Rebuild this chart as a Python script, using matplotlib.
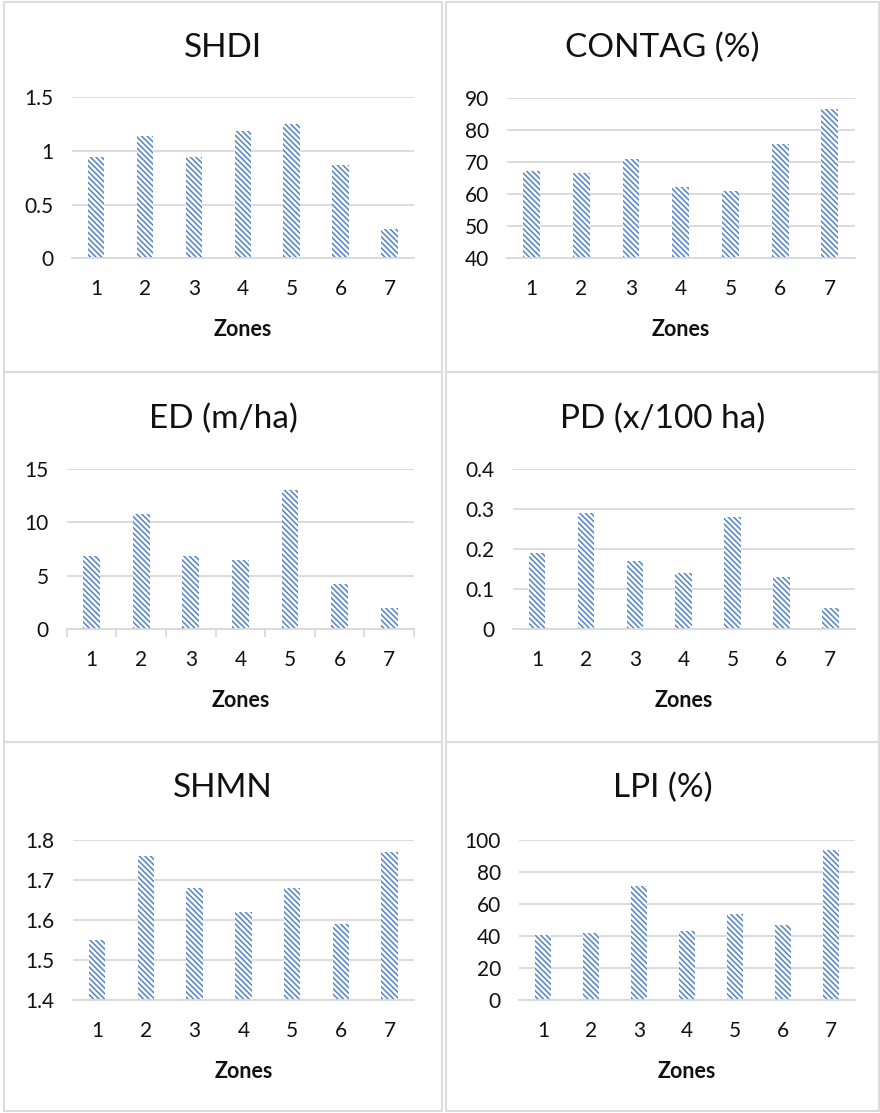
import matplotlib
matplotlib.use('Agg')
import matplotlib.pyplot as plt
from matplotlib.patches import Rectangle

plt.rcParams['font.family'] = ['Lato', 'DejaVu Sans']
plt.rcParams['hatch.linewidth'] = 1.1

# data
zones = [1, 2, 3, 4, 5, 6, 7]
shdi = [0.94, 1.14, 0.94, 1.19, 1.25, 0.87, 0.27]
contag = [67.2, 66.5, 71.0, 62.2, 61.0, 75.6, 86.5]
ed = [6.85, 10.77, 6.85, 6.5, 13.0, 4.26, 1.96]
pd_ = [0.19, 0.29, 0.17, 0.14, 0.28, 0.13, 0.052]
shmn = [1.55, 1.76, 1.68, 1.62, 1.68, 1.59, 1.77]
lpi = [40.4, 42.0, 71.4, 43.3, 54.0, 46.6, 93.8]

titles = ["SHDI", "CONTAG (%)", "ED (m/ha)", "PD (x/100 ha)", "SHMN", "LPI (%)"]
series = [shdi, contag, ed, pd_, shmn, lpi]
yticks = [[0, 0.5, 1, 1.5],
          [40, 50, 60, 70, 80, 90],
          [0, 5, 10, 15],
          [0, 0.1, 0.2, 0.3, 0.4],
          [1.4, 1.5, 1.6, 1.7, 1.8],
          [0, 20, 40, 60, 80, 100]]
ylabels = [["0", "0.5", "1", "1.5"],
           ["40", "50", "60", "70", "80", "90"],
           ["0", "5", "10", "15"],
           ["0", "0.1", "0.2", "0.3", "0.4"],
           ["1.4", "1.5", "1.6", "1.7", "1.8"],
           ["0", "20", "40", "60", "80", "100"]]

W, H = 880, 1113
fig = plt.figure(figsize=(W / 100, H / 100), dpi=100)

# plot areas in pixels: left, right, top, bottom
boxes = [(71.7, 414, 97.3, 258.3),
         (506.7, 854.7, 97.7, 258.3),
         (66.7, 414, 468.7, 629.3),
         (512.7, 854.7, 468.7, 629.3),
         (72.7, 414, 839.7, 1000.3),
         (519, 854.7, 839.7, 1000.3)]
# panel frames: left, right, top, bottom
panels = [(4, 442, 2, 372), (446, 879, 2, 372),
          (4, 442, 372, 742), (446, 879, 372, 742),
          (4, 442, 742, 1111), (446, 879, 742, 1111)]
title_y = [47.7, 47.7, 418.7, 418.7, 788, 788]

grid_c = '#d9d9d9'
bar_c = '#4f83cc'
txt_c = '#111111'

for i in range(6):
    l, r, t, b = boxes[i]
    ax = fig.add_axes([l / W, 1 - b / H, (r - l) / W, (b - t) / H])
    # hatch density: each backslash = 6 lines per inch
    ax.bar(zones, series[i], width=0.34, color='white', edgecolor=bar_c,
           linewidth=0, hatch='\\' * 6, zorder=2)
    ax.set_xlim(0.5, 7.5)
    ax.set_ylim(yticks[i][0], yticks[i][-1])
    ax.set_yticks(yticks[i])
    ax.set_yticklabels(ylabels[i])
    ax.set_xticks(zones)
    ax.grid(axis='y', color=grid_c, linewidth=1.3, zorder=0)
    for s in ['top', 'right', 'left']:
        ax.spines[s].set_visible(False)
    ax.spines['bottom'].set_color(grid_c)
    ax.spines['bottom'].set_linewidth(1.3)
    ax.tick_params(axis='both', length=0, labelsize=15, colors=txt_c)
    ax.tick_params(axis='y', pad=13)
    ax.tick_params(axis='x', pad=15)
    if i == 2:
        ax.set_xticks([z + 0.5 for z in [0] + zones], minor=True)
        ax.tick_params(axis='x', which='minor', length=6, color=grid_c, width=1.3)
    ax.set_xlabel("Zones", fontsize=15.5, fontweight='bold', labelpad=14, color=txt_c)

    pl, pr, pt, pb = panels[i]
    fig.patches.append(Rectangle((pl / W, 1 - pb / H), (pr - pl) / W, (pb - pt) / H,
                                 transform=fig.transFigure, fill=False,
                                 edgecolor='#dcdcdc', linewidth=1.5))
    fig.text((pl + pr) / 2 / W, 1 - title_y[i] / H, titles[i], fontsize=24,
             ha='center', va='center', color=txt_c)

fig.savefig('out.png', dpi=100)
